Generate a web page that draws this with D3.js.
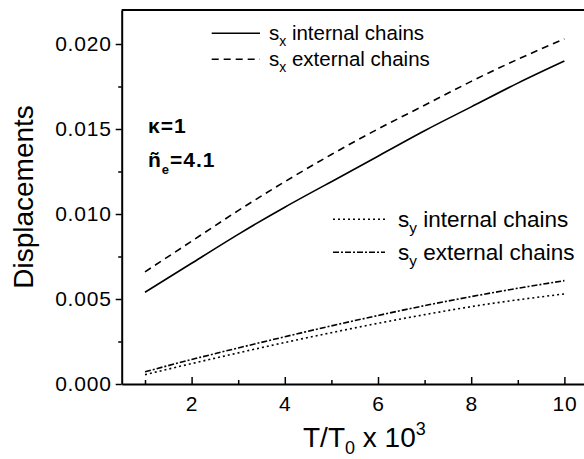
<!DOCTYPE html>
<html>
<head>
<meta charset="utf-8">
<script src="https://cdn.jsdelivr.net/npm/d3@7"></script>
<style>
  html, body { margin: 0; padding: 0; background: #fff; }
  svg { display: block; font-family: "Liberation Sans", Arial, Helvetica, sans-serif; }
</style>
</head>
<body>
<svg id="chart" width="584" height="459"></svg>
<script>
// ---- data ----
const temps = [1, 2, 3, 4, 5, 6, 7, 8, 9, 10];
const sxInternal = [0.0054, 0.0071, 0.0088, 0.0104, 0.0119, 0.0134, 0.0149, 0.0163, 0.0177, 0.0190];
const sxExternal = [0.0066, 0.0084, 0.0102, 0.0119, 0.0135, 0.0150, 0.0164, 0.0178, 0.0191, 0.0203];
const syInternal = [0.00055, 0.00120, 0.00183, 0.00244, 0.00302, 0.00357, 0.00408, 0.00455, 0.00495, 0.0053];
const syExternal = [0.00072, 0.00144, 0.00212, 0.00278, 0.00342, 0.00403, 0.00461, 0.00514, 0.00563, 0.00608];
const xMajorTicks = [2, 4, 6, 8, 10];
const xMinorTicks = [1, 3, 5, 7, 9];
const yMajorTicks = [0, 0.005, 0.010, 0.015, 0.020];
const yMinorTicks = [0.0025, 0.0075, 0.0125, 0.0175];
const seriesNames = ["internal chains", "external chains", "internal chains", "external chains"];

const svg = d3.select("#chart");
const x = d3.scaleLinear().domain([0.5, 10.5]).range([121.7, 587.7]);
const y = d3.scaleLinear().domain([0, 0.022]).range([384, 10]);

const fontTick = 21;

// top frame line
svg.append("line")
  .attr("x1", x(0.5)).attr("x2", 584)
  .attr("y1", y(0.022)).attr("y2", y(0.022))
  .attr("stroke", "#000").attr("stroke-width", 2);

// x axis
const gx = svg.append("g").attr("transform", `translate(0,${y(0)})`);
gx.call(d3.axisBottom(x).tickValues(xMajorTicks).tickSize(-7).tickSizeOuter(0).tickPadding(12).tickFormat(d3.format("d")));
const gxm = svg.append("g").attr("transform", `translate(0,${y(0)})`);
gxm.call(d3.axisBottom(x).tickValues(xMinorTicks).tickSize(-4).tickSizeOuter(0).tickFormat(""));
gxm.select(".domain").remove();

// y axis
const gy = svg.append("g").attr("transform", `translate(${x(0.5)},0)`);
gy.call(d3.axisLeft(y).tickValues(yMajorTicks).tickSize(6).tickSizeOuter(0).tickPadding(4).tickFormat(d3.format(".3f")));
const gym = svg.append("g").attr("transform", `translate(${x(0.5)},0)`);
gym.call(d3.axisLeft(y).tickValues(yMinorTicks).tickSize(3.5).tickSizeOuter(0).tickFormat(""));
gym.select(".domain").remove();

svg.selectAll(".domain").attr("stroke", "#000").attr("stroke-width", 2);
svg.selectAll(".tick line").attr("stroke", "#000").attr("stroke-width", 1.5);
svg.selectAll(".tick text")
  .attr("font-size", fontTick)
  .attr("font-family", "Liberation Sans, Arial, sans-serif")
  .attr("letter-spacing", 0.8)
  .attr("fill", "#000");

// axis titles
svg.append("text")
  .attr("transform", `translate(33,197) rotate(-90)`)
  .attr("text-anchor", "middle")
  .attr("font-size", 28)
  .text("Displacements");

const xt = svg.append("text")
  .attr("x", 303).attr("y", 446.7)
  .attr("font-size", 28);
xt.append("tspan").text("T/T");
xt.append("tspan").attr("font-size", 18).attr("dy", 7).text("0");
xt.append("tspan").attr("dy", -7).text(" x 10");
xt.append("tspan").attr("font-size", 18).attr("dy", -12).text("3");

// lines
const styles = [
  { data: sxInternal, dash: null },
  { data: sxExternal, dash: "7,5" },
  { data: syInternal, dash: "2,3" },
  { data: syExternal, dash: "6,2,2,2" }
];
const line = d3.line().x(d => x(d[0])).y(d => y(d[1])).curve(d3.curveNatural);
styles.forEach(s => {
  svg.append("path")
    .datum(temps.map((t, i) => [t, s.data[i]]))
    .attr("d", line)
    .attr("fill", "none")
    .attr("stroke", "#000")
    .attr("stroke-width", 1.6)
    .attr("stroke-dasharray", s.dash);
});

// legends
const legendItems = [
  { x1: 211.7, x2: 260, ly: 33.3, tx: 269, ty: 39.5, fs: 20.5, sub: "x", name: seriesNames[0], dash: null },
  { x1: 211.7, x2: 260, ly: 59.3, tx: 269, ty: 65.5, fs: 20.5, sub: "x", name: seriesNames[1], dash: "7,5" },
  { x1: 333, x2: 385, ly: 219.3, tx: 398, ty: 226.7, fs: 22.5, sub: "y", name: seriesNames[2], dash: "2,3" },
  { x1: 333, x2: 385, ly: 252.3, tx: 398, ty: 259.7, fs: 22.5, sub: "y", name: seriesNames[3], dash: "6,2,2,2" }
];
legendItems.forEach(d => {
  svg.append("line")
    .attr("x1", d.x1).attr("x2", d.x2).attr("y1", d.ly).attr("y2", d.ly)
    .attr("stroke", "#000").attr("stroke-width", 1.6)
    .attr("stroke-dasharray", d.dash);
  const t = svg.append("text").attr("x", d.tx).attr("y", d.ty).attr("font-size", d.fs);
  t.append("tspan").text("s");
  t.append("tspan").attr("font-size", d.fs * 0.68).attr("dy", 6).text(d.sub);
  t.append("tspan").attr("dy", -6).text(" " + d.name);
});

// annotations
svg.append("text")
  .attr("x", 148).attr("y", 133.3)
  .attr("font-size", 21).attr("font-weight", "bold").attr("letter-spacing", 1)
  .text("κ=1");
const an = svg.append("text")
  .attr("x", 148).attr("y", 166.7)
  .attr("font-size", 21).attr("font-weight", "bold").attr("letter-spacing", 1);
an.append("tspan").text("ñ");
an.append("tspan").attr("font-size", 13).attr("dy", 7).text("e");
an.append("tspan").attr("dy", -7).text("=4.1");
</script>
</body>
</html>
